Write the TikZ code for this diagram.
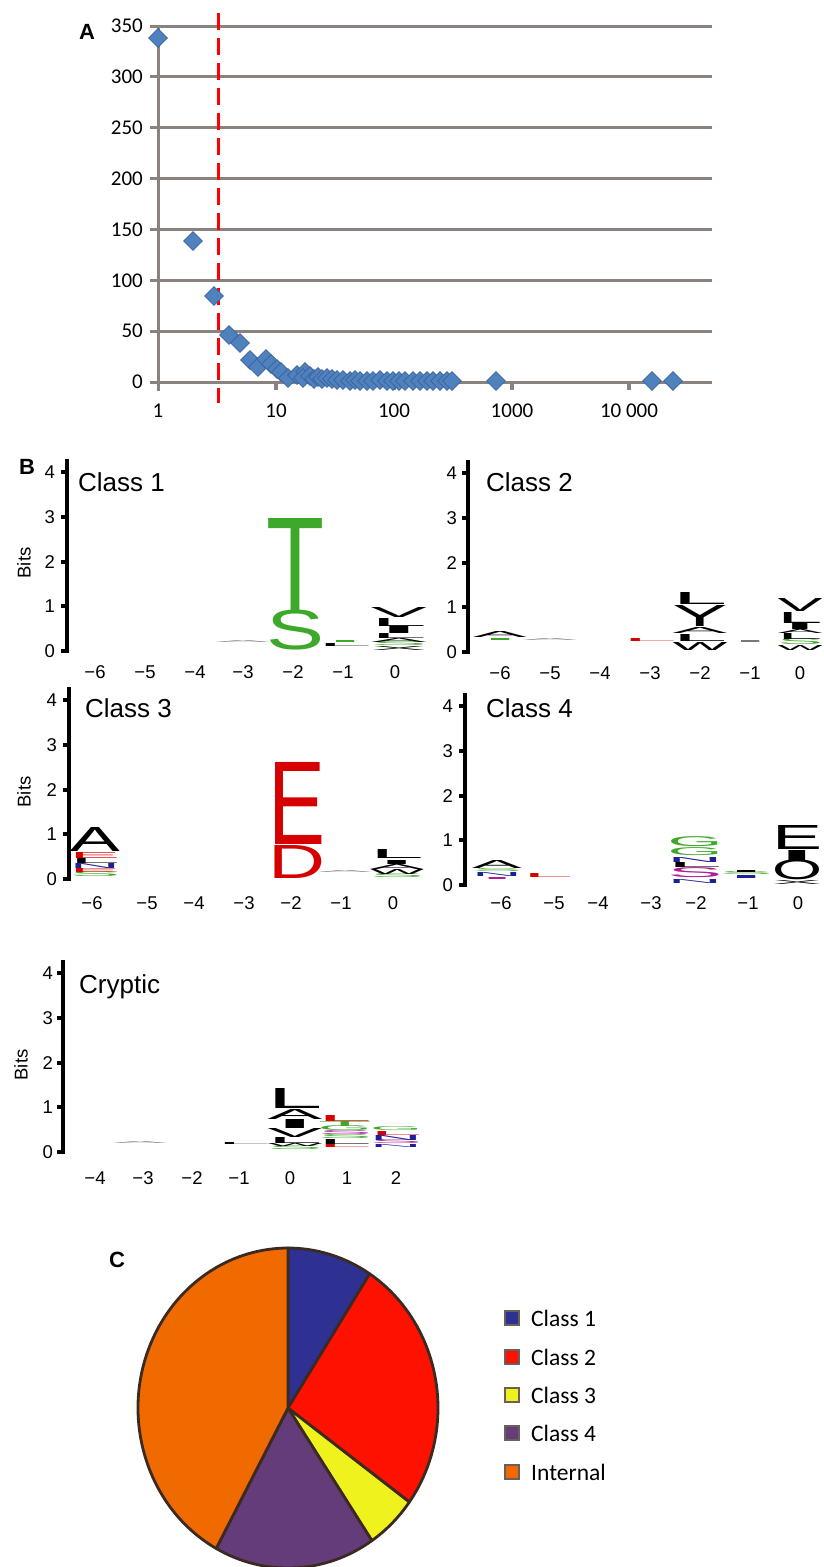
\documentclass[tikz,border=0pt]{standalone}
\usepackage{fontspec}
\setmainfont{Liberation Sans}
\newfontfamily\calibri{Carlito}
\usetikzlibrary{shapes.geometric, positioning}

\definecolor{gridgrey}{RGB}{138,130,126}
\definecolor{dotblue}{RGB}{79,129,189}
\definecolor{dotedge}{RGB}{58,98,160}
\definecolor{logogreen}{RGB}{62,168,42}
\definecolor{logored}{RGB}{214,0,0}
\definecolor{logoblue}{RGB}{32,32,150}
\definecolor{logomag}{RGB}{170,32,150}
\definecolor{logogrey}{RGB}{120,120,120}
\definecolor{c1blue}{RGB}{46,49,146}
\definecolor{c2red}{RGB}{255,17,0}
\definecolor{c3yellow}{RGB}{240,242,30}
\definecolor{c4purple}{RGB}{101,60,122}
\definecolor{intorange}{RGB}{240,106,0}
\definecolor{pieedge}{RGB}{58,42,34}

\tikzstyle{panel} = [font=\fontsize{22}{22}\selectfont\bfseries, inner sep=0pt]
\tikzstyle{gridline} = [draw=gridgrey, line width=3pt]
\tikzstyle{ylab} = [font=\calibri\fontsize{21}{21}\selectfont, anchor=east, inner sep=0pt]
\tikzstyle{xlab} = [font=\calibri\fontsize{21}{21}\selectfont, inner sep=0pt]
\tikzstyle{point} = [diamond, fill=dotblue, draw=dotedge, line width=0.6pt, minimum size=19pt, inner sep=0pt]
\tikzstyle{cutoff} = [draw=red, line width=3pt, dash pattern=on 17pt off 8pt]
\tikzstyle{logoaxis} = [line width=4pt]
\tikzstyle{bitlab} = [font=\fontsize{18.5}{18.5}\selectfont, anchor=east, inner sep=0pt]
\tikzstyle{poslab} = [font=\fontsize{18.5}{18.5}\selectfont, inner sep=0pt]
\tikzstyle{classname} = [font=\fontsize{26}{26}\selectfont, anchor=west, inner sep=0pt]
\tikzstyle{logo} = [inner sep=0pt, outer sep=0pt, anchor=south]
\tikzstyle{slice} = [draw=pieedge, line width=2.8pt, line join=round]
\tikzstyle{legbox} = [draw=pieedge!75, line width=2pt, minimum size=14pt, inner sep=0pt]
\tikzstyle{legtext} = [font=\calibri\fontsize{23.5}{24}\selectfont, inner sep=0pt]

\begin{document}
\begin{tikzpicture}[x=1pt, y=-1pt]
		\useasboundingbox (0,0) rectangle (823,1567);

		% A: cluster sizes
		\node (pA) [panel] at (87,32) {A};
		\foreach \v [count=\i] in {0,50,...,350} {
			\draw [gridline] (150,382-\v*1.0171) -- (712,382-\v*1.0171);
			\node (yv\i) [ylab] at (143,382-\v*1.0171) {\v};
		}
		\draw [gridline] (158,26) -- (158,391);
		\foreach \x in {276,394,512,629}
			\draw [gridline, line width=4pt] (\x,382) -- (\x,390);
		\foreach \x/\t [count=\i] in {158/1, 276/10, 394/100, 512/1000, 629/{10 000}}
			\node (xv\i) [xlab] at (\x,411) {\t};
		\draw [cutoff] (218.5,13) -- (218.5,403);
		\foreach \x/\y [count=\i] in {158/38, 193/241, 214/296, 229/335, 240/343, 250/360, 258/367, 266/359,
			271/364, 277/369, 281/372, 288/378, 297/375, 305/372, 303/378, 310/376, 314/379, 318/377,
			322/379, 327/378, 332/379, 337/380, 343/380, 350/381, 355/380, 360/381, 367/381, 373/381,
			380/380, 387/381, 393/381, 399/381, 405/381, 413/381, 420/381, 427/381, 433/381, 440/381,
			447/381, 452/381, 496/381, 652/381, 673/381}
			\node (pt\i) [point] at (\x,\y) {};

		% B: logos
		\node (pB) [panel] at (27,467) {B};
		\foreach \ax/\bs/\lx [count=\p] in {67/651/55, 468/652/457, 69/879/57, 465/885/453, 63/1152/53} {
			\draw [logoaxis] (\ax,\bs+2) -- (\ax,\bs-192);
			\foreach \k in {0,...,4} {
				\draw [logoaxis] (\ax-6,\bs-\k*44.7) -- (\ax,\bs-\k*44.7);
				\node (bits\p-\k) [bitlab] at (\lx,\bs-\k*44.7) {\k};
			}
		}
		\node (yt1) [poslab, rotate=90] at (24,563) {Bits};
		\node (yt3) [poslab, rotate=90] at (24,792) {Bits};
		\node (yt5) [poslab, rotate=90] at (21,1065) {Bits};
		\node (cl1) [classname] at (78,482) {Class 1};
		\node (cl2) [classname] at (486,482) {Class 2};
		\node (cl3) [classname] at (85,708) {Class 3};
		\node (cl4) [classname] at (486,708) {Class 4};
		\node (cl5) [classname] at (79,987) {Cryptic};
		\foreach \x/\t [count=\i] in {95/−6, 145/−5, 195/−4, 243/−3, 293/−2, 343/−1, 395/0}
			\node (posA\i) [poslab] at (\x,672) {\t};
		\foreach \x/\t [count=\i] in {500/−6, 550/−5, 600/−4, 650/−3, 700/−2, 750/−1, 800/0}
			\node (posB\i) [poslab] at (\x,673) {\t};
		\foreach \x/\t [count=\i] in {92/−6, 147/−5, 194/−4, 244/−3, 291/−2, 341/−1, 393/0}
			\node (posC\i) [poslab] at (\x,903) {\t};
		\foreach \x/\t [count=\i] in {501/−6, 554/−5, 598/−4, 651/−3, 696/−2, 748/−1, 798/0}
			\node (posD\i) [poslab] at (\x,903) {\t};
		\foreach \x/\t [count=\i] in {95/−4, 143/−3, 192/−2, 239/−1, 290/0, 347/1, 396/2}
			\node (posE\i) [poslab] at (\x,1178) {\t};

		% class 1
		\node (oneC1) [logo, text=logogrey] at (243,642) {\resizebox*{54pt}{2pt}{A}};
		\foreach \b/\h/\c/\l [count=\i] in {650/40/logogreen/S, 610/92/logogreen/T}
			\node (oneE\i) [logo, text=\c] at (296,\b) {\resizebox*{58pt}{\h pt}{\l}};
		\foreach \b/\h/\c/\l [count=\i] in {646/3/black/L, 642/2/logogreen/I}
			\node (oneF\i) [logo, text=\c] at (345,\b) {\resizebox*{54pt}{\h pt}{\l}};
		\foreach \b/\h/\c/\l [count=\i] in {650/4/black/X, 646/4/logogreen/S, 642/4/black/A, 638/5/black/L,
			633/7/black/I, 626/8/black/L, 617/10/black/V}
			\node (oneG\i) [logo, text=\c] at (399,\b) {\resizebox*{56pt}{\h pt}{\l}};

		% class 2
		\foreach \b/\h/\c/\l [count=\i] in {640/2/logogreen/I, 637/6/black/A}
			\node (twoA\i) [logo, text=\c] at (500,\b) {\resizebox*{54pt}{\h pt}{\l}};
		\node (twoB1) [logo, text=logogrey] at (550,640) {\resizebox*{54pt}{2pt}{A}};
		\node (twoD1) [logo, text=logored] at (650,641) {\resizebox*{54pt}{3pt}{L}};
		\foreach \b/\h/\c/\l [count=\i] in {650/8/black/W, 641/7/black/L, 633/6/black/A, 626/21/black/Y, 604/12/black/L}
			\node (twoE\i) [logo, text=\c] at (700,\b) {\resizebox*{55pt}{\h pt}{\l}};
		\node (twoF1) [logo, text=logogrey] at (750,642) {\resizebox*{54pt}{2pt}{I}};
		\foreach \b/\h/\c/\l [count=\i] in {650/5/black/W, 645/6/logogreen/S, 639/6/black/L, 633/4/black/A,
			629/6/black/I, 623/11/black/L, 611/13/black/V}
			\node (twoG\i) [logo, text=\c] at (800,\b) {\resizebox*{45pt}{\h pt}{\l}};

		% class 3
		\foreach \b/\h/\c/\l [count=\i] in {877/5/logogreen/S, 872/4/logored/E, 868/5/logoblue/N, 863/5/black/L,
			858/6/logored/E, 851/24/black/A}
			\node (threeA\i) [logo, text=\c] at (95,\b) {\resizebox*{50pt}{\h pt}{\l}};
		\foreach \b/\h/\c/\l [count=\i] in {878/33/logored/D, 844/82/logored/E}
			\node (threeE\i) [logo, text=\c] at (297,\b) {\resizebox*{57pt}{\h pt}{\l}};
		\node (threeF1) [logo, text=logogrey] at (345,872) {\resizebox*{54pt}{2pt}{A}};
		\foreach \b/\h/\c/\l [count=\i] in {878/4/logogreen/S, 874/5/black/W, 869/5/black/A, 864/4/black/I, 858/9/black/L}
			\node (threeG\i) [logo, text=\c] at (397,\b) {\resizebox*{54pt}{\h pt}{\l}};

		% class 4
		\foreach \b/\h/\c/\l [count=\i] in {879/2/logomag/I, 876/4/logoblue/N, 872/3/logogreen/S, 868/8/black/A}
			\node (fourA\i) [logo, text=\c] at (497,\b) {\resizebox*{50pt}{\h pt}{\l}};
		\node (fourB1) [logo, text=logored] at (548,877) {\resizebox*{50pt}{4pt}{L}};
		\foreach \b/\h/\c/\l [count=\i] in {883/4/logoblue/N, 878/10/logomag/S, 867/5/black/L, 862/5/logoblue/N,
			856/8/logogreen/G, 847/10/logogreen/G}
			\node (fourE\i) [logo, text=\c] at (695,\b) {\resizebox*{55pt}{\h pt}{\l}};
		\foreach \b/\h/\c/\l [count=\i] in {878/3/logoblue/I, 875/3/logogreen/S, 872/2/black/I}
			\node (fourF\i) [logo, text=\c] at (746,\b) {\resizebox*{54pt}{\h pt}{\l}};
		\foreach \b/\h/\c/\l [count=\i] in {884/4/black/X, 880/20/black/O, 860/10/black/I, 849/24/black/E}
			\node (fourG\i) [logo, text=\c] at (797,\b) {\resizebox*{50pt}{\h pt}{\l}};

		% cryptic
		\node (crypB1) [logo, text=logogrey] at (140,1143) {\resizebox*{54pt}{2pt}{A}};
		\node (crypD1) [logo, text=black] at (244,1144) {\resizebox*{54pt}{2pt}{L}};
		\foreach \b/\h/\c/\l [count=\i] in {1150/4/logogreen/S, 1146/3/black/W, 1143/6/black/L, 1137/9/black/V,
			1128/9/black/I, 1119/10/black/A, 1108/20/black/L}
			\node (crypE\i) [logo, text=\c] at (295,\b) {\resizebox*{55pt}{\h pt}{\l}};
		\foreach \b/\h/\c/\l [count=\i] in {1147/3/logored/L, 1144/5/black/L, 1139/4/logogreen/S, 1135/4/logomag/S,
			1131/5/logogreen/G, 1126/5/logogreen/T, 1121/6/logored/L}
			\node (crypF\i) [logo, text=\c] at (345,\b) {\resizebox*{54pt}{\h pt}{\l}};
		\foreach \b/\h/\c/\l [count=\i] in {1147/3/logoblue/N, 1144/4/logomag/S, 1140/5/logoblue/N, 1135/4/logored/L,
			1131/4/logogreen/G}
			\node (crypG\i) [logo, text=\c] at (396,\b) {\resizebox*{52pt}{\h pt}{\l}};

		% C: pie
		\node (pC) [panel] at (117,1260) {C};
		\coordinate (pie) at (288,1408);
		\filldraw [slice, fill=c1blue] (pie) -- ++(-90:150 and 160) arc[start angle=-90, end angle=-57, x radius=150, y radius=160] -- cycle;
		\filldraw [slice, fill=c2red] (pie) -- ++(-57:150 and 160) arc[start angle=-57, end angle=36, x radius=150, y radius=160] -- cycle;
		\filldraw [slice, fill=c3yellow] (pie) -- ++(36:150 and 160) arc[start angle=36, end angle=56, x radius=150, y radius=160] -- cycle;
		\filldraw [slice, fill=c4purple] (pie) -- ++(56:150 and 160) arc[start angle=56, end angle=118.6, x radius=150, y radius=160] -- cycle;
		\filldraw [slice, fill=intorange] (pie) -- ++(118.6:150 and 160) arc[start angle=118.6, end angle=270, x radius=150, y radius=160] -- cycle;

		\node (key1) [legbox, fill=c1blue] at (512,1318) {};
		\node (key2) [legbox, fill=c2red] at (512,1357) {};
		\node (key3) [legbox, fill=c3yellow] at (512,1395) {};
		\node (key4) [legbox, fill=c4purple] at (512,1433) {};
		\node (key5) [legbox, fill=intorange] at (512,1472) {};
		\node (lab1) [legtext, right=11pt of key1] {Class 1};
		\node (lab2) [legtext, right=11pt of key2] {Class 2};
		\node (lab3) [legtext, right=11pt of key3] {Class 3};
		\node (lab4) [legtext, right=11pt of key4] {Class 4};
		\node (lab5) [legtext, right=11pt of key5] {Internal};
\end{tikzpicture}
\end{document}
